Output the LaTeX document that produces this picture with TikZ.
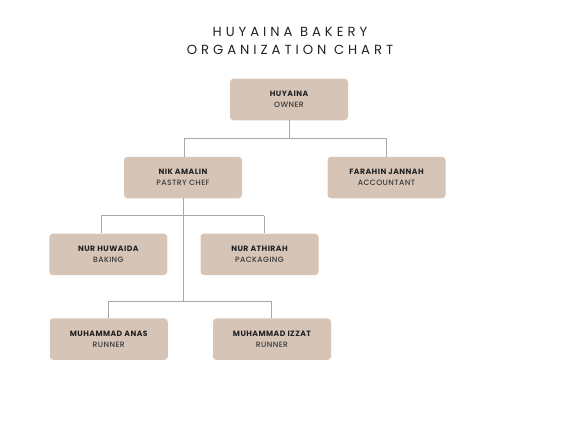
\documentclass[tikz,border=0pt]{standalone}
\usepackage{fontspec}
\setmainfont{Poppins}
\newfontfamily\titlefont[LetterSpace=30]{Poppins}
\newfontfamily\namefont[LetterSpace=6]{Poppins Bold}
\newfontfamily\rolefont[LetterSpace=5]{Poppins Medium}
\definecolor{boxfill}{HTML}{D6C4B6}
\definecolor{linec}{HTML}{A8A8A8}
\definecolor{txt}{HTML}{222222}
\definecolor{roletxt}{HTML}{3A3A3A}
\tikzset{
  card/.style={fill=boxfill, draw=none, rounded corners=3.5pt, minimum width=118pt, minimum height=41.5pt, inner sep=0pt},
  conn/.style={draw=linec, line width=0.8pt},
  nametxt/.style={font=\namefont\fontsize{7.7}{9}\selectfont, text=txt},
  roletxt/.style={font=\rolefont\fontsize{7.7}{9}\selectfont, text=roletxt},
  titletxt/.style={font=\titlefont\fontsize{13.2}{15}\selectfont, text=txt}
}
\newcommand{\cardnode}[4]{%
  \node[card] (#1) at (#2) {};
  \node[nametxt] (#1n) at ([yshift=5.8pt]#1.center) {#3};
  \node[roletxt] (#1r) at ([yshift=-5.8pt]#1.center) {#4};
}
\begin{document}
\begin{tikzpicture}[x=1pt,y=1pt]
\useasboundingbox (0,0) rectangle (577,-433);
\node[titletxt] (t1) at (290,-31.5) {HUYAINA BAKERY};
\node[titletxt] (t2) at (290,-50) {ORGANIZATION CHART};
\cardnode{owner}{289,-99.5}{HUYAINA}{OWNER}
\cardnode{nik}{183,-177.5}{NIK AMALIN}{PASTRY CHEF}
\cardnode{farahin}{386.5,-177.5}{FARAHIN JANNAH}{ACCOUNTANT}
\cardnode{huwaida}{108.3,-254.3}{NUR HUWAIDA}{BAKING}
\cardnode{athirah}{259.5,-254.3}{NUR ATHIRAH}{PACKAGING}
\cardnode{anas}{108.8,-339.2}{MUHAMMAD ANAS}{RUNNER}
\cardnode{izzat}{272,-339.2}{MUHAMMAD IZZAT}{RUNNER}
\coordinate (j1) at (289,-138.3);
\coordinate (j1l) at (184,-138.3);
\coordinate (j1r) at (386.7,-138.3);
\coordinate (j2) at (183.3,-215.7);
\coordinate (j2l) at (101,-215.7);
\coordinate (j2r) at (264,-215.7);
\coordinate (j3) at (183.3,-301);
\coordinate (j3l) at (108.3,-301);
\coordinate (j3r) at (271.7,-301);
\draw[conn] (owner.south) -- (j1);
\draw[conn] (j1l) -- (j1r);
\draw[conn] (j1l) -- (j1l |- nik.north);
\draw[conn] (j1r) -- (j1r |- farahin.north);
\draw[conn] (nik.south -| j2) -- (j3);
\draw[conn] (j2l) -- (j2r);
\draw[conn] (j2l) -- (j2l |- huwaida.north);
\draw[conn] (j2r) -- (j2r |- athirah.north);
\draw[conn] (j3l) -- (j3r);
\draw[conn] (j3l) -- (j3l |- anas.north);
\draw[conn] (j3r) -- (j3r |- izzat.north);
\end{tikzpicture}
\end{document}
